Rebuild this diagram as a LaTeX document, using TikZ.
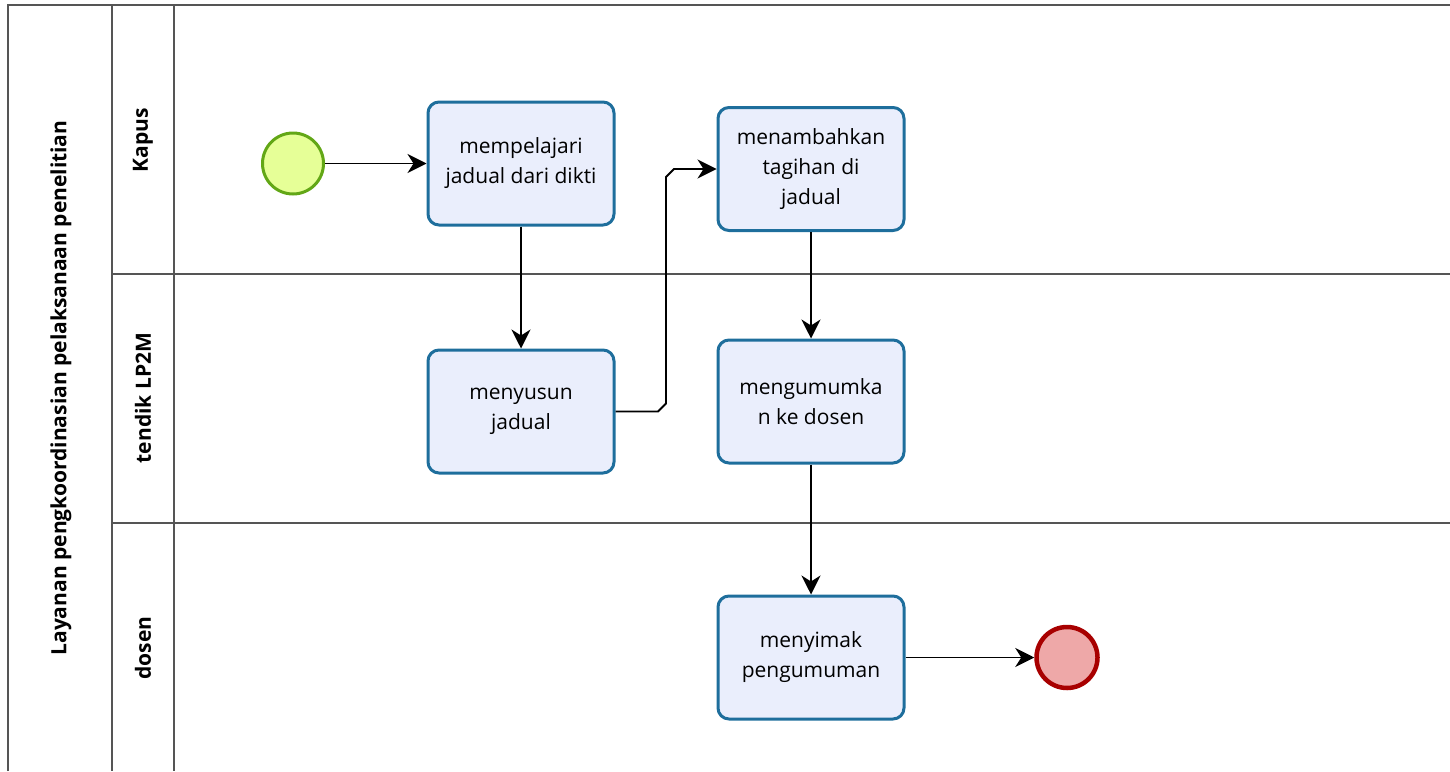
\documentclass[tikz,border=0pt]{standalone}
\usepackage{fontspec}
\setmainfont{Open Sans}
\usetikzlibrary{arrows.meta}
\definecolor{taskfill}{HTML}{EAEEFC}
\definecolor{taskdraw}{HTML}{1E6E9C}
\definecolor{startfill}{HTML}{E6FF97}
\definecolor{startdraw}{HTML}{62A716}
\definecolor{endfill}{HTML}{EEA8A8}
\definecolor{enddraw}{HTML}{A80000}
\definecolor{laneline}{HTML}{555555}
\tikzset{
  task/.style={rectangle, rounded corners=11pt, draw=taskdraw, line width=3pt,
    fill=taskfill, minimum width=186pt, minimum height=123pt, align=center,
    font=\fontsize{21}{30}\selectfont, inner sep=0pt},
  startev/.style={circle, draw=startdraw, fill=startfill, line width=3pt, minimum size=61pt, inner sep=0pt},
  endev/.style={circle, draw=enddraw, fill=endfill, line width=4.5pt, minimum size=61pt, inner sep=0pt},
  flow/.style={draw=black, line width=1.8pt, -{Stealth[length=19pt, width=19pt, inset=6pt]}},
  laneln/.style={draw=laneline, line width=1.6pt},
  lanelabel/.style={rotate=90, font=\fontsize{21}{25}\selectfont\bfseries, inner sep=0pt}
}
\begin{document}
\begin{tikzpicture}[x=1pt,y=-1pt]
\useasboundingbox (0,0) rectangle (1450,771);
% pool and lanes
\draw[laneln] (8,771) -- (8,5) -- (1450,5);
\draw[laneln] (112,5) -- (112,771);
\draw[laneln] (174,5) -- (174,771);
\draw[laneln] (112,274) -- (1450,274);
\draw[laneln] (112,523) -- (1450,523);
\node[lanelabel] (pool) at (61,388) {Layanan pengkoordinasian pelaksanaan penelitian};
\node[lanelabel] (l1) at (143,140) {Kapus};
\node[lanelabel] (l2) at (143,398) {tendik LP2M};
\node[lanelabel] (l3) at (143,648) {dosen};
% events and tasks
\node[startev] (start) at (293,163.5) {};
\node[task] (t1) at (521,163.5) {mempelajari\\jadual dari dikti};
\node[task] (t2) at (521,411.5) {menyusun\\jadual};
\node[task] (t3) at (811,169) {menambahkan\\tagihan di\\jadual};
\node[task] (t4) at (811,401.5) {mengumumka\\n ke dosen};
\node[task] (t5) at (811,657.5) {menyimak\\pengumuman};
\node[endev] (end) at (1067,657.5) {};
% flows
\draw[flow] (start) -- (t1);
\draw[flow] (t1) -- (t2);
\draw[flow] (t2.east) -- (658,411.5) -- (666,403.5) -- (666,177) -- (674,169) -- (t3.west);
\draw[flow] (t3) -- (t4);
\draw[flow] (t4) -- (t5);
\draw[flow] (t5) -- (end);
\end{tikzpicture}
\end{document}
